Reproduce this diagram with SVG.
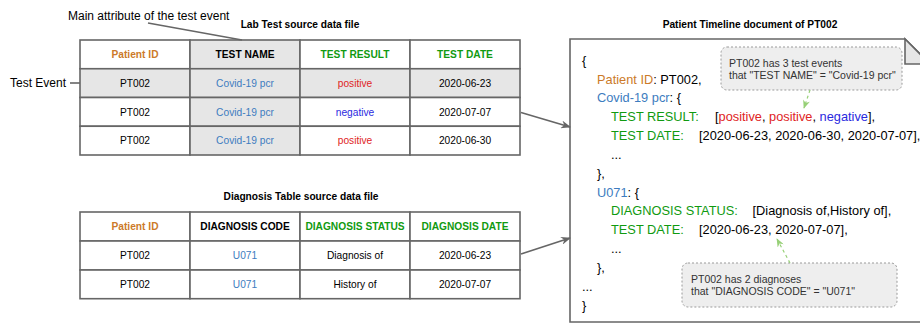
<svg xmlns="http://www.w3.org/2000/svg" width="920" height="324" viewBox="0 0 920 324">
<style>
text{font-family:"Liberation Sans",Arial,Helvetica,sans-serif;fill:#000}
.cell{stroke:#666;stroke-width:1.6}
.w{fill:#fff}.g{fill:#e6e6e6}
.hd{font-size:10.2px;font-weight:bold;text-anchor:middle}
.td{font-size:10.2px;text-anchor:middle}
.ttl{font-size:10.2px;font-weight:bold;text-anchor:middle}
.lbl{font-size:12px}
.js{font-size:12.8px}
.or{fill:#cc7a29}.bl{fill:#3d7cc0}.gr{fill:#109a10}.rd{fill:#e02424}.nb{fill:#2a2ae0}
.note{fill:#eeeeee;stroke:#9a9a9a;stroke-dasharray:2 2;stroke-width:1}
.nt{font-size:10.5px;fill:#333}
.conn{stroke:#666;stroke-width:1.6;fill:none}
.gconn{stroke:#97d077;stroke-width:1.2;fill:none;stroke-dasharray:3 3}
</style>
<defs>
<marker id="ah" viewBox="0 0 10 8" refX="9" refY="4" markerWidth="10" markerHeight="8" markerUnits="userSpaceOnUse" orient="auto">
<path d="M0,0 L10,4 L0,8 L3,4 Z" fill="#666"/>
</marker>
<marker id="gah" viewBox="0 0 10 8" refX="9" refY="4" markerWidth="9" markerHeight="7" markerUnits="userSpaceOnUse" orient="auto">
<path d="M0,0 L10,4 L0,8 L3,4 Z" fill="#97d077"/>
</marker>
</defs>

<g id="lab-table">
<text class="ttl" x="300" y="28">Lab Test source data file</text>
<rect class="cell w" x="80" y="40" width="110" height="28.75"/>
<rect class="cell g" x="190" y="40" width="110" height="28.75"/>
<rect class="cell w" x="300" y="40" width="110" height="28.75"/>
<rect class="cell w" x="410" y="40" width="110" height="28.75"/>
<rect class="cell g" x="80" y="68.75" width="110" height="28.75"/>
<rect class="cell g" x="190" y="68.75" width="110" height="28.75"/>
<rect class="cell g" x="300" y="68.75" width="110" height="28.75"/>
<rect class="cell g" x="410" y="68.75" width="110" height="28.75"/>
<rect class="cell w" x="80" y="97.5" width="110" height="28.75"/>
<rect class="cell g" x="190" y="97.5" width="110" height="28.75"/>
<rect class="cell w" x="300" y="97.5" width="110" height="28.75"/>
<rect class="cell w" x="410" y="97.5" width="110" height="28.75"/>
<rect class="cell w" x="80" y="126.25" width="110" height="28.75"/>
<rect class="cell g" x="190" y="126.25" width="110" height="28.75"/>
<rect class="cell w" x="300" y="126.25" width="110" height="28.75"/>
<rect class="cell w" x="410" y="126.25" width="110" height="28.75"/>
<text class="hd or" x="135" y="58">Patient ID</text>
<text class="hd" x="245" y="58">TEST NAME</text>
<text class="hd gr" x="355" y="58">TEST RESULT</text>
<text class="hd gr" x="465" y="58">TEST DATE</text>
<text class="td" x="135" y="86.8">PT002</text>
<text class="td bl" x="245" y="86.8">Covid-19 pcr</text>
<text class="td rd" x="355" y="86.8">positive</text>
<text class="td" x="465" y="86.8">2020-06-23</text>
<text class="td" x="135" y="115.5">PT002</text>
<text class="td bl" x="245" y="115.5">Covid-19 pcr</text>
<text class="td nb" x="355" y="115.5">negative</text>
<text class="td" x="465" y="115.5">2020-07-07</text>
<text class="td" x="135" y="144.3">PT002</text>
<text class="td bl" x="245" y="144.3">Covid-19 pcr</text>
<text class="td rd" x="355" y="144.3">positive</text>
<text class="td" x="465" y="144.3">2020-06-30</text>
</g>

<g id="main-attribute-label">
<text class="lbl" x="68" y="20">Main attribute of the test event</text>
</g>
<g id="test-event-label">
<text class="lbl" x="10" y="87">Test Event</text>
</g>

<g id="diagnosis-table">
<text class="ttl" x="301" y="199.5">Diagnosis Table source data file</text>
<rect class="cell w" x="80" y="212" width="110" height="29"/>
<rect class="cell w" x="190" y="212" width="110" height="29"/>
<rect class="cell w" x="300" y="212" width="110" height="29"/>
<rect class="cell w" x="410" y="212" width="110" height="29"/>
<rect class="cell w" x="80" y="241" width="110" height="29"/>
<rect class="cell w" x="190" y="241" width="110" height="29"/>
<rect class="cell w" x="300" y="241" width="110" height="29"/>
<rect class="cell w" x="410" y="241" width="110" height="29"/>
<rect class="cell w" x="80" y="270" width="110" height="28.7"/>
<rect class="cell w" x="190" y="270" width="110" height="28.7"/>
<rect class="cell w" x="300" y="270" width="110" height="28.7"/>
<rect class="cell w" x="410" y="270" width="110" height="28.7"/>
<text class="hd or" x="135" y="230.2">Patient ID</text>
<text class="hd" x="245" y="230.2">DIAGNOSIS CODE</text>
<text class="hd gr" x="355" y="230.2">DIAGNOSIS STATUS</text>
<text class="hd gr" x="465" y="230.2">DIAGNOSIS DATE</text>
<text class="td" x="135" y="259.2">PT002</text>
<text class="td bl" x="245" y="259.2">U071</text>
<text class="td" x="355" y="259.2">Diagnosis of</text>
<text class="td" x="465" y="259.2">2020-06-23</text>
<text class="td" x="135" y="288">PT002</text>
<text class="td bl" x="245" y="288">U071</text>
<text class="td" x="355" y="288">History of</text>
<text class="td" x="465" y="288">2020-07-07</text>
</g>

<g id="timeline-document">
<text class="ttl" x="750" y="28">Patient Timeline document of PT002</text>
<path d="M570,39 L905,39 L930,64 L930,322 L570,322 Z" fill="#fff" stroke="#666" stroke-width="1.6"/>
<path d="M905,39 L905,64 L930,64 Z" fill="#e6e6e6" stroke="#666" stroke-width="1.6"/>
<text class="js" x="582" y="64.6">{</text>
<text class="js" x="597" y="83.5"><tspan class="or">Patient ID</tspan>: PT002,</text>
<text class="js" x="597" y="102.3"><tspan class="bl">Covid-19 pcr</tspan>: {</text>
<text class="js" y="121.2"><tspan class="gr" x="611">TEST RESULT:</tspan><tspan x="715">[</tspan><tspan class="rd">positive</tspan>, <tspan class="rd">positive</tspan>, <tspan class="nb">negative</tspan>],</text>
<text class="js" y="140"><tspan class="gr" x="611">TEST DATE:</tspan><tspan x="699">[2020-06-23, 2020-06-30, 2020-07-07],</tspan></text>
<text class="js" x="611" y="158.9">...</text>
<text class="js" x="597" y="177.7">},</text>
<text class="js" x="597" y="196.6"><tspan class="bl">U071</tspan>: {</text>
<text class="js" y="215.4"><tspan class="gr" x="611">DIAGNOSIS STATUS:</tspan><tspan x="752.5">[Diagnosis of,History of],</tspan></text>
<text class="js" y="234.3"><tspan class="gr" x="611">TEST DATE:</tspan><tspan x="699">[2020-06-23, 2020-07-07],</tspan></text>
<text class="js" x="611" y="253.1">...</text>
<text class="js" x="597" y="272">},</text>
<text class="js" x="582" y="290.8">...</text>
<text class="js" x="582" y="309.7">}</text>
</g>

<g id="note-tests">
<rect class="note" x="721" y="47" width="181" height="43" rx="6"/>
<text class="nt" x="729" y="67">PT002 has 3 test events</text>
<text class="nt" x="729" y="79">that "TEST NAME" = "Covid-19 pcr"</text>
</g>
<g id="note-diagnoses">
<rect class="note" x="682" y="263" width="215" height="44" rx="6"/>
<text class="nt" x="691" y="283">PT002 has 2 diagnoses</text>
<text class="nt" x="691" y="295">that "DIAGNOSIS CODE" = "U071"</text>
</g>

<g id="connectors">
<line class="conn" x1="148" y1="23" x2="242" y2="40" stroke-width="1.2"/>
<line class="conn" x1="70" y1="83" x2="80" y2="83" stroke-width="1.2"/>
<line class="conn" x1="521" y1="112.5" x2="570" y2="127" marker-end="url(#ah)"/>
<line class="conn" x1="521" y1="254" x2="570" y2="238" marker-end="url(#ah)"/>
<line class="gconn" x1="810" y1="90" x2="804" y2="108" marker-end="url(#gah)"/>
<line class="gconn" x1="790" y1="263" x2="777" y2="239" marker-end="url(#gah)"/>
</g>
</svg>
